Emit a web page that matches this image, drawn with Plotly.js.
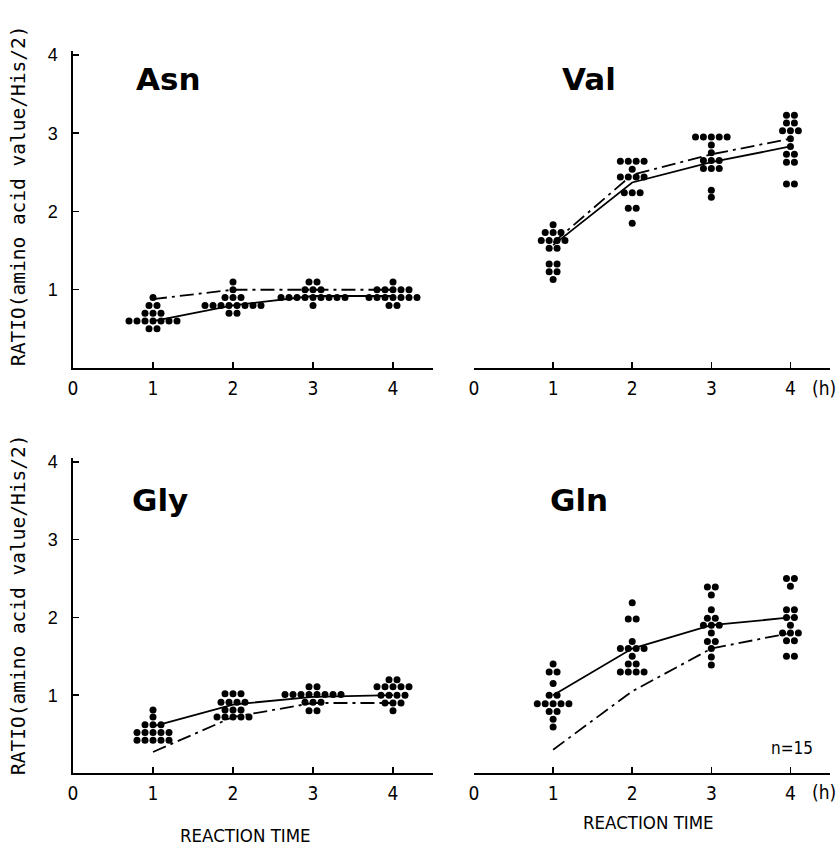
<!DOCTYPE html>
<html>
<head>
<meta charset="utf-8">
<script src="https://cdn.plot.ly/plotly-3.0.1.min.js"></script>
<style>html,body{margin:0;padding:0;background:#fff;}#chart{width:840px;height:845px;}</style>
</head>
<body>
<div id="chart"></div>
<script>
// ---- data ----
const times = [1, 2, 3, 4];
const xTickVals = [0, 1, 2, 3, 4];
const xTickText = ['0', '1', '2', '3', '4'];
const yTickVals = [1, 2, 3, 4];
const yTickText = ['1', '2', '3', '4'];
const panelNames = ['Asn', 'Val', 'Gly', 'Gln'];
const yTitle = 'RATIO(amino acid value/His/2)';
const xTitle = 'REACTION TIME';
const unitLabel = '(h)';
const nLabel = 'n=15';

// Asn
const asnT1 = [0.9, 0.8, 0.8, 0.7, 0.7, 0.7, 0.6, 0.6, 0.6, 0.6, 0.6, 0.6, 0.6, 0.5, 0.5];
const asnT2 = [1.1, 1.0, 0.9, 0.9, 0.9, 0.8, 0.8, 0.8, 0.8, 0.8, 0.8, 0.8, 0.8, 0.7, 0.7];
const asnT3 = [1.1, 1.1, 1.0, 1.0, 1.0, 0.9, 0.9, 0.9, 0.9, 0.9, 0.9, 0.9, 0.9, 0.9, 0.8];
const asnT4 = [1.1, 1.0, 1.0, 1.0, 1.0, 1.0, 0.9, 0.9, 0.9, 0.9, 0.9, 0.9, 0.9, 0.8, 0.8];
const asnSolid = [0.6, 0.8, 0.92, 0.92];
const asnDash = [0.88, 1.0, 1.0, 1.0];

// Val
const valT1 = [1.83, 1.73, 1.73, 1.73, 1.63, 1.63, 1.63, 1.63, 1.53, 1.53, 1.33, 1.33, 1.23, 1.23, 1.13];
const valT2 = [2.64, 2.64, 2.64, 2.64, 2.54, 2.44, 2.44, 2.44, 2.44, 2.24, 2.24, 2.24, 2.04, 2.04, 1.85];
const valT3 = [2.95, 2.95, 2.95, 2.95, 2.95, 2.85, 2.75, 2.65, 2.65, 2.65, 2.55, 2.55, 2.55, 2.27, 2.18];
const valT4 = [3.23, 3.23, 3.13, 3.13, 3.03, 3.03, 3.03, 2.93, 2.83, 2.73, 2.73, 2.63, 2.63, 2.35, 2.35];
const valSolid = [1.57, 2.37, 2.63, 2.83];
const valDash = [1.6, 2.47, 2.73, 2.93];

// Gly
const glyT1 = [0.81, 0.72, 0.62, 0.62, 0.62, 0.52, 0.52, 0.52, 0.52, 0.52, 0.42, 0.42, 0.42, 0.42, 0.42];
const glyT2 = [1.02, 1.02, 1.02, 0.91, 0.91, 0.91, 0.91, 0.81, 0.81, 0.81, 0.72, 0.72, 0.72, 0.72, 0.72];
const glyT3 = [1.11, 1.11, 1.01, 1.01, 1.01, 1.01, 1.01, 1.01, 1.01, 1.01, 0.91, 0.91, 0.91, 0.8, 0.8];
const glyT4 = [1.2, 1.2, 1.11, 1.11, 1.11, 1.11, 1.11, 1.0, 1.0, 1.0, 1.0, 0.9, 0.9, 0.9, 0.8];
const glySolid = [0.6, 0.88, 0.98, 1.0];
const glyDash = [0.27, 0.72, 0.9, 0.9];

// Gln
const glnT1 = [1.4, 1.3, 1.3, 1.15, 1.0, 1.0, 0.89, 0.89, 0.89, 0.89, 0.89, 0.79, 0.79, 0.69, 0.59];
const glnT2 = [2.19, 1.98, 1.98, 1.69, 1.6, 1.6, 1.6, 1.6, 1.5, 1.4, 1.4, 1.3, 1.3, 1.3, 1.3];
const glnT3 = [2.39, 2.39, 2.29, 2.1, 1.99, 1.99, 1.9, 1.9, 1.9, 1.8, 1.69, 1.69, 1.6, 1.49, 1.39];
const glnT4 = [2.5, 2.5, 2.4, 2.1, 2.1, 2.0, 2.0, 1.9, 1.8, 1.8, 1.8, 1.7, 1.7, 1.5, 1.5];
const glnSolid = [1.0, 1.6, 1.9, 2.0];
const glnDash = [0.3, 1.05, 1.6, 1.8];

// ---- build ----
const DOT_STEP = 0.1;
function dotTrace(groups, xa, ya) {
  const xs = [], ys = [];
  groups.forEach((vals, i) => {
    const counts = {};
    const order = [];
    vals.forEach(v => { const k = v.toFixed(2); if (!(k in counts)) { counts[k] = 0; order.push(k); } counts[k]++; });
    order.forEach(k => {
      const n = counts[k];
      for (let j = 0; j < n; j++) { xs.push(times[i] + (j - (n - 1) / 2) * DOT_STEP); ys.push(+k); }
    });
  });
  return { type: 'scatter', mode: 'markers', x: xs, y: ys, xaxis: xa, yaxis: ya,
    marker: { color: '#000', size: 7 }, hoverinfo: 'skip', showlegend: false };
}
function lineTrace(vals, xa, ya, dash) {
  return { type: 'scatter', mode: 'lines', x: times, y: vals, xaxis: xa, yaxis: ya,
    line: { color: '#000', width: 1.8, dash: dash }, hoverinfo: 'skip', showlegend: false };
}
const DASHDOT = '14px,5px,3px,5px';
const data = [
  dotTrace([asnT1, asnT2, asnT3, asnT4], 'x', 'y'),
  lineTrace(asnSolid, 'x', 'y', 'solid'), lineTrace(asnDash, 'x', 'y', DASHDOT),
  dotTrace([valT1, valT2, valT3, valT4], 'x2', 'y2'),
  lineTrace(valSolid, 'x2', 'y2', 'solid'), lineTrace(valDash, 'x2', 'y2', DASHDOT),
  dotTrace([glyT1, glyT2, glyT3, glyT4], 'x3', 'y3'),
  lineTrace(glySolid, 'x3', 'y3', 'solid'), lineTrace(glyDash, 'x3', 'y3', DASHDOT),
  dotTrace([glnT1, glnT2, glnT3, glnT4], 'x4', 'y4'),
  lineTrace(glnSolid, 'x4', 'y4', 'solid'), lineTrace(glnDash, 'x4', 'y4', DASHDOT)
];

const W = 840, H = 845;
const px = v => v / W;
const py = v => 1 - v / H;
const TICKFONT = { family: 'Liberation Sans Narrow, DejaVu Sans Condensed, sans-serif', size: 19, color: '#000' };
const YTICKFONT = { family: 'Liberation Sans, DejaVu Sans, sans-serif', size: 18, color: '#000' };

function xAxis(d0, d1, anchor, withEnd) {
  return {
    domain: [px(d0), px(d1)], anchor: anchor, range: [0, 4.5],
    tickmode: 'array',
    tickvals: withEnd ? xTickVals.concat([4.5]) : xTickVals,
    ticktext: withEnd ? xTickText.concat(['']) : xTickText,
    ticks: 'inside', ticklen: 6, tickwidth: 1.5, tickcolor: '#000',
    showline: true, linecolor: '#000', linewidth: 1.6,
    showgrid: false, zeroline: false, tickfont: TICKFONT, ticklabelstandoff: 3, fixedrange: true
  };
}
function yAxis(top, bottom, anchor, visible) {
  const a = {
    domain: [py(bottom), py(top)], anchor: anchor, range: [0, 4.05],
    showgrid: false, zeroline: false, fixedrange: true
  };
  if (visible) {
    Object.assign(a, {
      tickmode: 'array', tickvals: yTickVals, ticktext: yTickText,
      ticks: 'inside', ticklen: 6, tickwidth: 1.5, tickcolor: '#000',
      showline: true, linecolor: '#000', linewidth: 1.6, tickfont: YTICKFONT, ticklabelstandoff: 10
    });
  } else {
    Object.assign(a, { visible: false });
  }
  return a;
}

const TITLEFONT = { family: 'DejaVu Sans, sans-serif', size: 31, color: '#000', weight: 'bold' };
const YTFONT = { family: 'DejaVu Sans Mono, Liberation Mono, monospace', size: 19.5, color: '#000' };
const XTFONT = { family: 'Liberation Sans Narrow, DejaVu Sans Condensed, sans-serif', size: 18.5, color: '#000' };
function ann(text, x, y, font, extra) {
  return Object.assign({ text: text, xref: 'paper', yref: 'paper', x: px(x), y: py(y),
    showarrow: false, font: font, xanchor: 'center', yanchor: 'middle' }, extra || {});
}

const layout = {
  width: W, height: H, margin: { l: 0, r: 0, t: 0, b: 0 },
  paper_bgcolor: '#fff', plot_bgcolor: 'rgba(0,0,0,0)', showlegend: false,
  xaxis: xAxis(73, 433, 'y', true),
  yaxis: yAxis(51, 368, 'x', true),
  xaxis2: xAxis(474, 830, 'y2', false),
  yaxis2: yAxis(51, 368, 'x2', false),
  xaxis3: xAxis(73, 433, 'y3', true),
  yaxis3: yAxis(458, 773, 'x3', true),
  xaxis4: xAxis(474, 830, 'y4', false),
  yaxis4: yAxis(458, 773, 'x4', false),
  annotations: [
    ann(panelNames[0], 168, 79, TITLEFONT),
    ann(panelNames[1], 589, 79, TITLEFONT),
    ann(panelNames[2], 160, 500, TITLEFONT),
    ann(panelNames[3], 579, 500, TITLEFONT),
    ann(yTitle, 18, 196, YTFONT, { textangle: -90 }),
    ann(yTitle, 18, 605, YTFONT, { textangle: -90 }),
    ann(xTitle, 245, 835, XTFONT),
    ann(xTitle, 648, 822, XTFONT),
    ann(unitLabel, 824, 388, TICKFONT),
    ann(unitLabel, 824, 792, TICKFONT),
    ann(nLabel, 792, 748, { family: 'Liberation Sans Narrow, DejaVu Sans Condensed, sans-serif', size: 17, color: '#000' })
  ]
};

Plotly.newPlot('chart', data, layout, { staticPlot: true, displayModeBar: false });
</script>
</body>
</html>
